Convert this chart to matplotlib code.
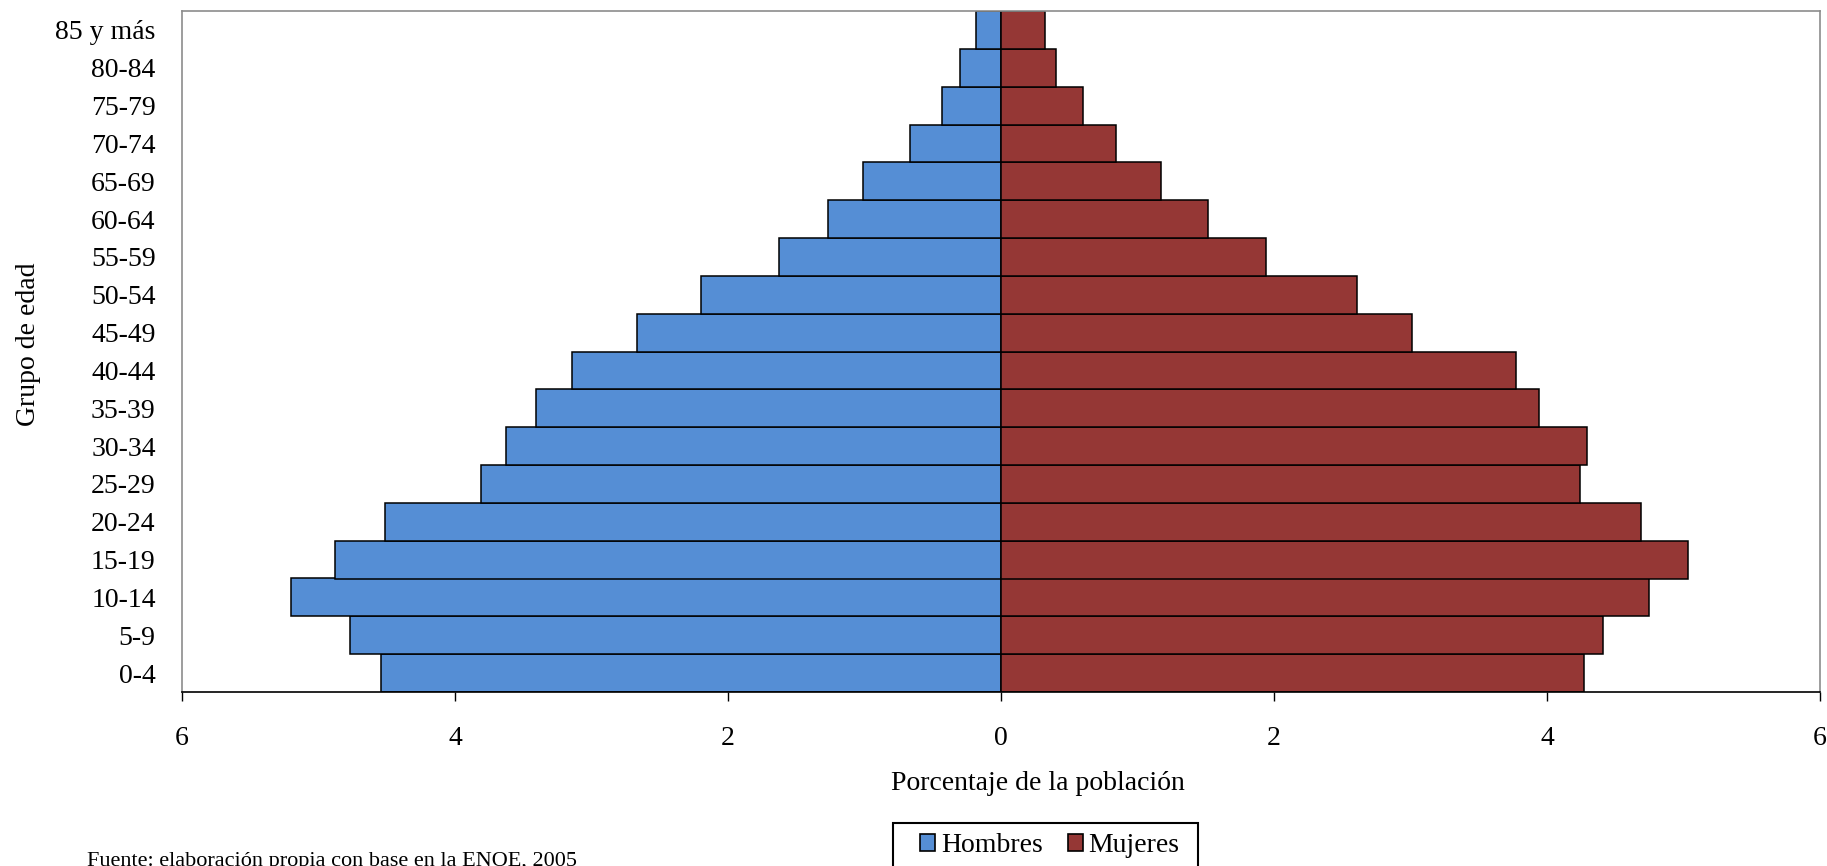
import numpy as np
import matplotlib
matplotlib.use('Agg')
from matplotlib import pyplot as plt
from matplotlib.patches import Patch, Rectangle

# grupos de edad, de abajo hacia arriba
grupos = ['0-4', '5-9', '10-14', '15-19', '20-24', '25-29', '30-34', '35-39',
          '40-44', '45-49', '50-54', '55-59', '60-64', '65-69', '70-74',
          '75-79', '80-84', '85 y más']

# porcentaje de la poblacion
hombres = [4.54, 4.77, 5.20, 4.88, 4.51, 3.81, 3.63, 3.41, 3.14, 2.67,
           2.20, 1.63, 1.27, 1.01, 0.67, 0.43, 0.30, 0.18]
mujeres = [4.27, 4.41, 4.75, 5.03, 4.69, 4.24, 4.29, 3.94, 3.77, 3.01,
           2.61, 1.94, 1.52, 1.17, 0.84, 0.60, 0.40, 0.32]

xticks = [-6, -4, -2, 0, 2, 4, 6]

azul = '#558ED5'
rojo = '#953735'

plt.rcParams['font.family'] = ['Liberation Serif', 'DejaVu Serif']
fs = 20
W, H = 1827, 866

fig = plt.figure(figsize=(W / 100, H / 100), dpi=100)
ax = fig.add_axes([182 / W, 1 - 692 / H, 1638 / W, 681 / H])

y = np.arange(len(grupos))
ax.barh(y, -np.array(hombres), height=1.0, color=azul,
        edgecolor='black', linewidth=1.1, label='Hombres')
ax.barh(y, mujeres, height=1.0, color=rojo,
        edgecolor='black', linewidth=1.1, label='Mujeres')

ax.set_xlim(-6, 6)
ax.set_ylim(-0.5, len(grupos) - 0.5)

ax.set_xticks(xticks)
ax.set_xticklabels([str(abs(t)) for t in xticks], fontsize=fs)
ax.set_yticks(y)
ax.set_yticklabels(grupos, fontsize=fs)
ax.tick_params(axis='y', length=0, pad=19)
ax.tick_params(axis='x', length=6.5, width=1, direction='out', pad=18,
               color='black')

for s in ['top', 'right', 'left']:
    ax.spines[s].set_color('#8c8c8c')
    ax.spines[s].set_linewidth(1.2)
ax.spines['bottom'].set_color('black')
ax.spines['bottom'].set_linewidth(1.2)

fig.text(1038 / W, 1 - 784 / H, 'Porcentaje de la población',
         fontsize=fs, ha='center', va='center')
fig.text(29 / W, 1 - 344 / H, 'Grupo de edad', fontsize=fs,
         rotation=90, ha='center', va='center')

# caja de la leyenda (se corta en el borde inferior como en el original)
caja = Rectangle((893 / W, 1 - 880 / H), 305 / W, 57 / H,
                 transform=fig.transFigure, facecolor='white',
                 edgecolor='black', linewidth=1.5, clip_on=False, zorder=2)
fig.patches.append(caja)

handles = [Patch(facecolor=azul, edgecolor='black', linewidth=1.2),
           Patch(facecolor=rojo, edgecolor='black', linewidth=1.2)]
leg = fig.legend(handles, ['Hombres', 'Mujeres'], ncol=2, fontsize=fs,
                 loc='upper left', bbox_to_anchor=(920 / W, 1 - 833 / H),
                 frameon=False, borderpad=0, handlelength=0.55,
                 handleheight=0.55, handletextpad=0.2, columnspacing=0.9,
                 borderaxespad=0)
leg.set_zorder(3)

fig.text(87 / W, 1 - 852 / H,
         'Fuente: elaboración propia con base en la ENOE, 2005',
         fontsize=16, ha='left', va='top')

fig.savefig('out.png', dpi=100)
